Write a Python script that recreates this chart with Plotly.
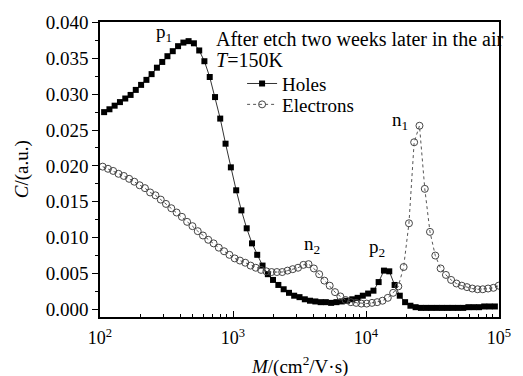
import plotly.graph_objects as go

# ---- data ----
# log10 of mobility M (cm^2/V.s) at the sampled points
holes_logm = [2.031, 2.071, 2.110, 2.150, 2.190, 2.230, 2.269, 2.309, 2.349, 2.388,
              2.428, 2.468, 2.507, 2.547, 2.587, 2.627, 2.666, 2.706, 2.746, 2.785,
              2.825, 2.865, 2.904, 2.944, 2.984, 3.024, 3.063, 3.103, 3.143, 3.182,
              3.222, 3.262, 3.301, 3.341, 3.381, 3.421, 3.460, 3.500, 3.540, 3.579,
              3.619, 3.659, 3.698, 3.738, 3.778, 3.818, 3.857, 3.897, 3.937, 3.976,
              4.016, 4.056, 4.095, 4.135, 4.175, 4.215, 4.254, 4.294, 4.334, 4.373,
              4.413, 4.453, 4.492, 4.532, 4.572, 4.612, 4.651, 4.691, 4.731, 4.770,
              4.810, 4.850, 4.889, 4.929, 4.969]
holes_c = [0.0275, 0.0279, 0.0284, 0.0289, 0.0294, 0.0299, 0.0306, 0.0313, 0.0320, 0.0328,
           0.0337, 0.0345, 0.0353, 0.0360, 0.0367, 0.0372, 0.0374, 0.0371, 0.0361, 0.0346,
           0.0324, 0.0296, 0.0266, 0.0231, 0.0198, 0.0166, 0.0138, 0.0113, 0.0092, 0.0076,
           0.0061, 0.0049, 0.0041, 0.0034, 0.0028, 0.0023, 0.0019, 0.0017, 0.0014, 0.0012,
           0.0011, 0.0010, 0.0010, 0.0009, 0.0010, 0.0011, 0.0012, 0.0014, 0.0016, 0.0019,
           0.0022, 0.0026, 0.0038, 0.0054, 0.0053, 0.0034, 0.0019, 0.0010, 0.0005, 0.0003,
           0.0002, 0.0002, 0.0002, 0.0002, 0.0002, 0.0002, 0.0002, 0.0002, 0.0002, 0.0003,
           0.0003, 0.0003, 0.0004, 0.0004, 0.0004]

electrons_logm = [2.020, 2.060, 2.099, 2.139, 2.179, 2.219, 2.258, 2.298, 2.338, 2.377,
                  2.417, 2.457, 2.496, 2.536, 2.576, 2.616, 2.655, 2.695, 2.735, 2.774,
                  2.814, 2.854, 2.893, 2.933, 2.973, 3.013, 3.052, 3.092, 3.132, 3.171,
                  3.211, 3.251, 3.290, 3.330, 3.370, 3.410, 3.449, 3.489, 3.529, 3.568,
                  3.608, 3.648, 3.687, 3.727, 3.767, 3.807, 3.846, 3.886, 3.926, 3.965,
                  4.005, 4.045, 4.084, 4.124, 4.164, 4.204, 4.243, 4.283, 4.323, 4.362,
                  4.402, 4.442, 4.481, 4.521, 4.561, 4.601, 4.640, 4.680, 4.720, 4.759,
                  4.799, 4.839, 4.878, 4.918, 4.958, 4.998]
electrons_c = [0.0199, 0.0196, 0.0193, 0.0189, 0.0186, 0.0182, 0.0178, 0.0173, 0.0169, 0.0163,
               0.0159, 0.0153, 0.0147, 0.0141, 0.0135, 0.0129, 0.0122, 0.0116, 0.0109, 0.0103,
               0.0097, 0.0092, 0.0086, 0.0081, 0.0076, 0.0071, 0.0068, 0.0065, 0.0061, 0.0058,
               0.0055, 0.0053, 0.0052, 0.0052, 0.0052, 0.0054, 0.0056, 0.0058, 0.0062, 0.0063,
               0.0057, 0.0049, 0.0040, 0.0033, 0.0024, 0.0018, 0.0013, 0.0010, 0.0009, 0.0008,
               0.0008, 0.0009, 0.0010, 0.0012, 0.0016, 0.0023, 0.0032, 0.0059, 0.0120, 0.0233,
               0.0256, 0.0168, 0.0108, 0.0075, 0.0057, 0.0048, 0.0041, 0.0036, 0.0033, 0.0031,
               0.0029, 0.0028, 0.0028, 0.0029, 0.0030, 0.0033]

x_tick_vals = [1e2, 1e3, 1e4, 1e5]
x_tick_text = ["10<sup>2</sup>", "10<sup>3</sup>", "10<sup>4</sup>", "10<sup>5</sup>"]
x_minor_vals = [m * 10 ** e for e in (2, 3, 4) for m in range(2, 10)]

peak_labels = ["p<sub>1</sub>", "n<sub>2</sub>", "p<sub>2</sub>", "n<sub>1</sub>"]

# ---- figure ----
W, H = 523, 376
L, R, T, B = 100, 13, 20, 59.3
FONT = "Liberation Serif, Times New Roman, serif"


def px(xp, yp):
    return (xp - L) / (W - L - R), (H - B - yp) / (H - T - B)


fig = go.Figure()
fig.add_trace(go.Scatter(
    x=[10 ** v for v in holes_logm], y=holes_c, name="Holes",
    mode="lines+markers", legend="legend",
    line=dict(color="#333333", width=1),
    marker=dict(symbol="square", size=6, color="black"),
))
fig.add_trace(go.Scatter(
    x=[10 ** v for v in electrons_logm], y=electrons_c, name="Electrons",
    mode="lines+markers", legend="legend2",
    line=dict(color="#555555", width=1, dash="dot"),
    marker=dict(symbol="circle-open", size=7, color="#444444", line=dict(width=1)),
))

leg_common = dict(xanchor="left", yanchor="middle", bgcolor="rgba(0,0,0,0)",
                  font=dict(family=FONT, size=19, color="black"), itemwidth=30)
fig.update_layout(
    width=W, height=H,
    margin=dict(l=L, r=R, t=T, b=B),
    paper_bgcolor="white", plot_bgcolor="white",
    font=dict(family=FONT, size=18, color="black"),
    showlegend=True,
    legend=dict(x=px(246, 0)[0], y=px(0, 82)[1], **leg_common),
    legend2=dict(x=px(246, 0)[0], y=px(0, 103)[1], **leg_common),
    xaxis=dict(type="log", range=[2, 5], showgrid=False, zeroline=False,
               showline=True, linecolor="black", linewidth=1.5, mirror=True,
               ticks="inside", ticklen=6, tickwidth=1, tickcolor="black",
               tickvals=x_tick_vals, ticktext=x_tick_text, ticklabelstandoff=4,
               tickfont=dict(family=FONT, size=18, color="black"),
               minor=dict(tickvals=x_minor_vals, ticks="inside", ticklen=3,
                          tickwidth=1, tickcolor="black")),
    yaxis=dict(range=[-0.00107, 0.04007], showgrid=False, zeroline=False,
               showline=True, linecolor="black", linewidth=1.5, mirror=True,
               ticks="outside", ticklen=6, tickwidth=1, tickcolor="black",
               tick0=0, dtick=0.005, tickformat=".3f",
               tickfont=dict(family=FONT, size=19, color="black"),
               minor=dict(dtick=0.0025, ticks="outside", ticklen=3,
                          tickwidth=1, tickcolor="black")),
)

ann = []
# axis titles
ax, ay = px(20, 168)
ann.append(dict(x=ax, y=ay, text="<i>C</i>/(a.u.)", textangle=-90,
                font=dict(family=FONT, size=19)))
ax, ay = px(305, 365)
ann.append(dict(x=ax, y=ay, text="<i>M</i>/(cm<sup>2</sup>/V·s)",
                font=dict(family=FONT, size=19)))
# header texts
ax, ay = px(217, 37)
ann.append(dict(x=ax, y=ay, xanchor="left", text="After etch two weeks later in the air",
                font=dict(family=FONT, size=20)))
ax, ay = px(217, 58)
ann.append(dict(x=ax, y=ay, xanchor="left", text="<i>T</i>=150K",
                font=dict(family=FONT, size=20)))
# peak labels
for lab, (xp, yp) in zip(peak_labels, [(166, 31), (318, 244), (385, 247), (408, 120)]):
    ax, ay = px(xp, yp)
    ann.append(dict(x=ax, y=ay, text=lab, font=dict(family=FONT, size=19)))

for a in ann:
    a.setdefault("xanchor", "center")
    a.update(xref="paper", yref="paper", showarrow=False, yanchor="middle")
fig.update_layout(annotations=ann)

fig.write_html("out.html")
